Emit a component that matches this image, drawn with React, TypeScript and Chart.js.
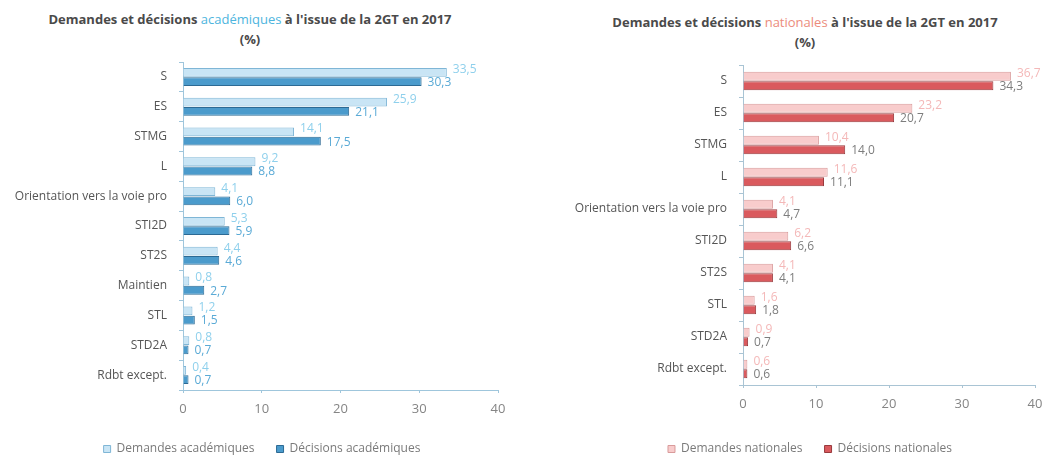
import React, { useEffect, useRef } from "react";
import { Chart, registerables } from "chart.js";

Chart.register(...registerables);

const categoriesAcad = [
  "S",
  "ES",
  "STMG",
  "L",
  "Orientation vers la voie pro",
  "STI2D",
  "ST2S",
  "Maintien",
  "STL",
  "STD2A",
  "Rdbt except.",
];
const demandesAcad = [33.5, 25.9, 14.1, 9.2, 4.1, 5.3, 4.4, 0.8, 1.2, 0.8, 0.4];
const decisionsAcad = [30.3, 21.1, 17.5, 8.8, 6.0, 5.9, 4.6, 2.7, 1.5, 0.7, 0.7];

const categoriesNat = [
  "S",
  "ES",
  "STMG",
  "L",
  "Orientation vers la voie pro",
  "STI2D",
  "ST2S",
  "STL",
  "STD2A",
  "Rdbt except.",
];
const demandesNat = [36.7, 23.2, 10.4, 11.6, 4.1, 6.2, 4.1, 1.6, 0.9, 0.6];
const decisionsNat = [34.3, 20.7, 14.0, 11.1, 4.7, 6.6, 4.1, 1.8, 0.7, 0.6];

const xTicks = [0, 10, 20, 30, 40];

const FONT = "'Open Sans', 'DejaVu Sans', sans-serif";

const fmt = (v: number) => v.toFixed(1).replace(".", ",");

type Cfg = {
  labels: string[];
  dem: number[];
  dec: number[];
  demLabel: string;
  decLabel: string;
  demFill: string;
  demBorder: string;
  decFill: string;
  decBorder: string;
  demText: string;
  decText: string;
  axisColor: string;
  yWidth: number;
  xHeight: number;
  padTop: number;
  padRight: number;
  padLeft: number;
  catPct: number;
};

const labelPlugin = {
  id: "valueLabels",
  afterDatasetsDraw(chart: any) {
    const ctx = chart.ctx;
    const colors: string[] = chart.options.plugins.valueLabels.colors;
    const shifts: number[] = chart.options.plugins.valueLabels.shifts;
    ctx.save();
    ctx.font = `12px ${FONT}`;
    ctx.textBaseline = "middle";
    ctx.textAlign = "left";
    chart.data.datasets.forEach((ds: any, di: number) => {
      const meta = chart.getDatasetMeta(di);
      meta.data.forEach((bar: any, i: number) => {
        ctx.fillStyle = colors[di];
        ctx.fillText(fmt(ds.data[i]), bar.x + 6, bar.y + shifts[di]);
      });
    });
    ctx.restore();
  },
};

function makeConfig(c: Cfg): any {
  return {
    type: "bar",
    data: {
      labels: c.labels,
      datasets: [
        {
          label: c.demLabel,
          data: c.dem,
          backgroundColor: c.demFill,
          borderColor: c.demBorder,
          borderWidth: 1,
          categoryPercentage: c.catPct,
          barPercentage: 0.95,
        },
        {
          label: c.decLabel,
          data: c.dec,
          backgroundColor: c.decFill,
          borderColor: c.decBorder,
          borderWidth: 1,
          categoryPercentage: c.catPct,
          barPercentage: 0.95,
        },
      ],
    },
    options: {
      indexAxis: "y",
      responsive: false,
      animation: false,
      devicePixelRatio: 1,
      layout: {
        padding: { top: c.padTop, right: c.padRight, bottom: 0, left: c.padLeft },
      },
      scales: {
        x: {
          min: 0,
          max: 40,
          afterBuildTicks: (scale: any) => {
            scale.ticks = xTicks.map((v) => ({ value: v }));
          },
          afterFit: (scale: any) => {
            scale.height = c.xHeight;
          },
          grid: {
            display: true,
            drawOnChartArea: false,
            drawTicks: true,
            tickLength: 3,
            color: c.axisColor,
          },
          border: { display: true, color: c.axisColor, width: 1 },
          ticks: {
            color: "#858585",
            font: { family: FONT, size: 13 },
            padding: 8,
          },
        },
        y: {
          afterFit: (scale: any) => {
            scale.width = c.yWidth;
            scale.paddingTop = 0;
            scale.paddingBottom = 0;
            // let the tick labels extend into the layout padding without clipping
            scale._computeLabelArea = () => undefined;
          },
          grid: {
            display: true,
            offset: true,
            drawOnChartArea: false,
            drawTicks: true,
            tickLength: 4,
            color: c.axisColor,
          },
          border: { display: true, color: c.axisColor, width: 1 },
          ticks: {
            color: "#555555",
            font: { family: FONT, size: 12 },
            padding: 12,
          },
        },
      },
      plugins: {
        legend: {
          position: "bottom",
          labels: {
            color: "#7a7a7a",
            font: { family: FONT, size: 12 },
            boxWidth: 7,
            boxHeight: 7,
            padding: 22,
          },
        },
        tooltip: { enabled: false },
        valueLabels: {
          colors: [c.demText, c.decText],
          shifts: [-3, 1],
        },
      },
    },
    plugins: [labelPlugin],
  };
}

function BarChart(props: { cfg: Cfg; width: number; height: number }) {
  const ref = useRef<HTMLCanvasElement | null>(null);
  useEffect(() => {
    if (!ref.current) return;
    const chart = new Chart(ref.current, makeConfig(props.cfg));
    return () => chart.destroy();
  }, []);
  return (
    <canvas
      ref={ref}
      width={props.width}
      height={props.height}
      style={{ width: props.width, height: props.height, display: "block" }}
    />
  );
}

// left canvas: x 0..520, y 50..465 ; plot x 183..498, y 62..390
const acadCfg: Cfg = {
  labels: categoriesAcad,
  dem: demandesAcad,
  dec: decisionsAcad,
  demLabel: "Demandes académiques",
  decLabel: "Décisions académiques",
  demFill: "#c9e5f5",
  demBorder: "#7fb6d6",
  decFill: "#4b9bcc",
  decBorder: "#2c6a94",
  demText: "#8fd0ec",
  decText: "#5aaad6",
  axisColor: "#9fc6dc",
  padLeft: 26,
  yWidth: 157,
  xHeight: 31,
  padTop: 12,
  padRight: 22,
  catPct: 0.62,
};

// right canvas: x 520..1064, y 50..465 ; plot x 743..1035, y 65..385
const natCfg: Cfg = {
  labels: categoriesNat,
  dem: demandesNat,
  dec: decisionsNat,
  demLabel: "Demandes nationales",
  decLabel: "Décisions nationales",
  demFill: "#f8cccc",
  demBorder: "#d99b9b",
  decFill: "#da5a5e",
  decBorder: "#983a3d",
  demText: "#f4b8b8",
  decText: "#7d7d7d",
  axisColor: "#a9c4d4",
  padLeft: 65,
  yWidth: 158,
  xHeight: 36,
  padTop: 15,
  padRight: 29,
  catPct: 0.6,
};

const titleStyle: React.CSSProperties = {
  position: "absolute",
  fontFamily: FONT,
  fontWeight: 700,
  fontSize: 13,
  color: "#4a4a4a",
  textAlign: "center",
  lineHeight: "20px",
  whiteSpace: "nowrap",
};

export default function App() {
  return (
    <div
      style={{
        position: "fixed",
        left: 0,
        top: 0,
        width: 1064,
        height: 455,
        background: "#ffffff",
        overflow: "hidden",
      }}
    >
      <div style={{ ...titleStyle, left: 0, width: 500, top: 9 }}>
        Demandes et décisions <span style={{ color: "#4db5de", fontWeight: 400 }}>académiques</span> à l'issue de la 2GT en 2017
        <br />
        (%)
      </div>
      <div style={{ ...titleStyle, left: 560, width: 490, top: 12 }}>
        Demandes et décisions <span style={{ color: "#ec8c7c", fontWeight: 400 }}>nationales</span> à l'issue de la 2GT en 2017
        <br />
        (%)
      </div>
      <div style={{ position: "absolute", left: 0, top: 50 }}>
        <BarChart cfg={acadCfg} width={520} height={415} />
      </div>
      <div style={{ position: "absolute", left: 520, top: 50 }}>
        <BarChart cfg={natCfg} width={544} height={415} />
      </div>
    </div>
  );
}
